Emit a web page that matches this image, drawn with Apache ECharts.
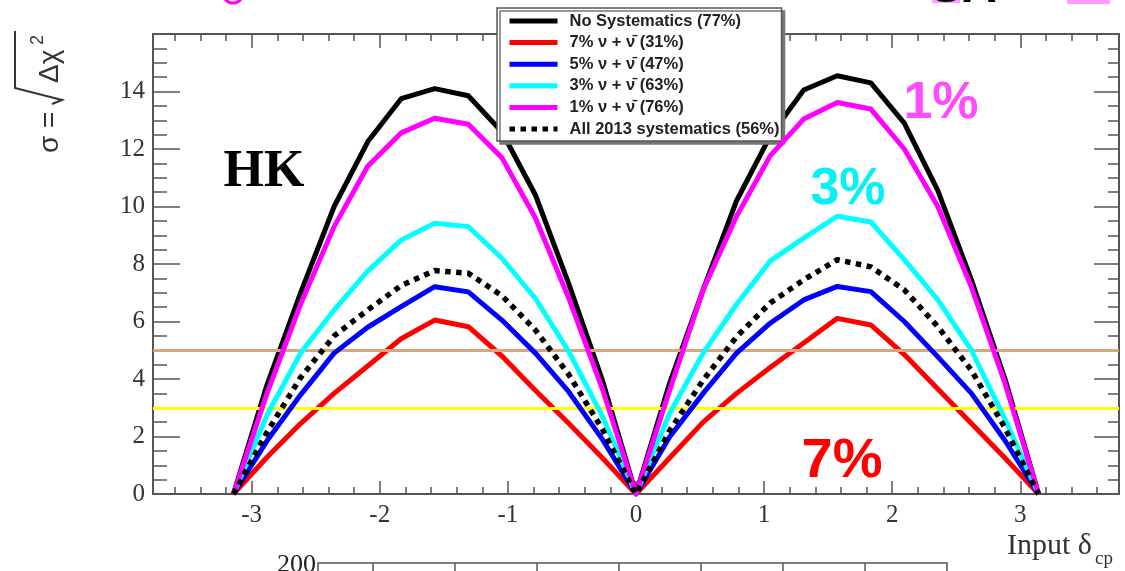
<!DOCTYPE html>
<html><head><meta charset="utf-8">
<script src="https://cdn.jsdelivr.net/npm/echarts@6/dist/echarts.min.js"></script>
<style>html,body{margin:0;padding:0;background:#fff}#c{width:1125px;height:571px}</style>
</head><body><div id="c"></div>
<script>
// Input delta_cp sample points (radians)
const deltaValues = [-3.142, -2.880, -2.618, -2.356, -2.094, -1.833, -1.571, -1.309, -1.047, -0.785, -0.524, -0.262, 0,
                     0.262, 0.524, 0.785, 1.047, 1.309, 1.571, 1.833, 2.094, 2.356, 2.618, 2.880, 3.142];
const seriesNames = ['No Systematics (77%)', '7% \u03bd + \u03bd\u0304 (31%)', '5% \u03bd + \u03bd\u0304 (47%)',
                     '3% \u03bd + \u03bd\u0304 (63%)', '1% \u03bd + \u03bd\u0304 (76%)', 'All 2013 systematics (56%)'];
const noSyst  = [0, 3.8, 7.0, 10.0, 12.25, 13.75, 14.1, 13.85, 12.6, 10.4, 7.3, 3.95, 0,
                 3.85, 7.1, 10.2, 12.45, 14.05, 14.55, 14.3, 12.9, 10.55, 7.45, 4.0, 0];
const syst7   = [0, 1.28, 2.45, 3.5, 4.45, 5.4, 6.05, 5.82, 4.8, 3.6, 2.45, 1.25, 0,
                 1.25, 2.5, 3.5, 4.4, 5.25, 6.11, 5.88, 4.85, 3.65, 2.45, 1.25, 0];
const syst5   = [0, 1.85, 3.45, 4.9, 5.8, 6.52, 7.21, 7.03, 6.05, 4.9, 3.55, 1.9, 0,
                 1.98, 3.5, 4.9, 5.94, 6.75, 7.22, 7.04, 6.0, 4.77, 3.5, 1.86, 0];
const syst3   = [0, 2.75, 4.9, 6.4, 7.75, 8.83, 9.42, 9.30, 8.2, 6.8, 4.95, 2.7, 0,
                 2.8, 4.9, 6.6, 8.1, 8.9, 9.66, 9.46, 8.15, 6.75, 5.0, 2.6, 0];
const syst1   = [0, 3.5, 6.6, 9.3, 11.4, 12.56, 13.07, 12.86, 11.7, 9.6, 6.8, 3.65, 0,
                 3.6, 7.1, 9.66, 11.76, 13.04, 13.62, 13.39, 12.0, 10.0, 7.2, 3.85, 0];
const syst2013 = [0, 2.15, 4.05, 5.5, 6.4, 7.25, 7.77, 7.68, 6.9, 5.7, 4.15, 2.25, 0,
                  2.2, 3.96, 5.47, 6.64, 7.45, 8.15, 7.9, 7.1, 5.82, 4.3, 2.3, 0];
const refLevels = [5, 3];
const xRange = [-3.7699, 3.7699];
const yRange = [0, 16];

const chart = echarts.init(document.getElementById('c'), null, {renderer: 'canvas'});
const axisColor = '#555';
function mk(name, vals, color, dotted, z) {
  return {
    name: name, type: 'line', data: deltaValues.map((d, i) => [d, vals[i]]),
    symbol: 'none', showSymbol: false, z: z, animation: false, clip: true,
    lineStyle: {color: color, width: dotted ? 5.5 : 5, type: dotted ? [5.5, 5.5] : 'solid', cap: 'butt', join: 'round'},
    itemStyle: {color: color}
  };
}
const intFmt = v => (Math.abs(v - Math.round(v)) < 1e-6 ? String(Math.round(v)) : '');
const labelFont = {fontFamily: '"Liberation Serif", serif', fontSize: 25, color: '#333'};
const baseX = {
  type: 'value', min: xRange[0], max: xRange[1], splitNumber: 8,
  axisLine: {show: true, onZero: false, lineStyle: {color: axisColor, width: 2}},
  splitLine: {show: false}
};
const baseY = {
  type: 'value', min: yRange[0], max: yRange[1], interval: 2,
  axisLine: {show: true, onZero: false, lineStyle: {color: axisColor, width: 2}},
  splitLine: {show: false}
};
const option = {
  backgroundColor: '#fff',
  animation: false,
  grid: {left: 153, right: 6, top: 34, bottom: 77, containLabel: false},
  xAxis: [
    Object.assign({}, baseX, {position: 'bottom',
      axisTick: {inside: true, length: 13, lineStyle: {color: axisColor, width: 1.5}},
      minorTick: {show: true, splitNumber: 5, length: 7, lineStyle: {color: axisColor, width: 1.5}},
      axisLabel: Object.assign({margin: 9, formatter: intFmt}, labelFont)}),
    Object.assign({}, baseX, {position: 'top',
      axisTick: {inside: true, length: 14, lineStyle: {color: axisColor, width: 1.5}},
      minorTick: {show: true, splitNumber: 5, length: 7, lineStyle: {color: axisColor, width: 1.5}},
      axisLabel: {show: false}})
  ],
  yAxis: [
    Object.assign({}, baseY, {position: 'left',
      axisTick: {inside: true, length: 27, lineStyle: {color: axisColor, width: 1.5}},
      minorTick: {show: true, splitNumber: 4, length: 14, lineStyle: {color: axisColor, width: 1.5}},
      axisLabel: Object.assign({margin: 8, formatter: v => (v >= yRange[1] ? '' : String(v))}, labelFont)}),
    Object.assign({}, baseY, {position: 'right',
      axisTick: {inside: true, length: 25, lineStyle: {color: axisColor, width: 1.5}},
      minorTick: {show: true, splitNumber: 4, length: 11, lineStyle: {color: axisColor, width: 1.5}},
      axisLabel: {show: false}})
  ],
  legend: {
    data: seriesNames, orient: 'vertical', left: 497, top: 8,
    itemWidth: 48, itemHeight: 14, itemGap: 3.6,
    padding: [4, 2, 3, 10],
    backgroundColor: '#fff', borderColor: '#555', borderWidth: 1.5,
    shadowColor: '#777', shadowOffsetX: 3, shadowOffsetY: 3, shadowBlur: 0,
    lineStyle: {width: 5},
    itemStyle: {opacity: 0, borderWidth: 0},
    selectedMode: false,
    textStyle: {fontFamily: '"Liberation Sans", Arial, sans-serif', fontWeight: 'bold', fontSize: 16.5, color: '#222', lineHeight: 18, padding: [0, 0, 0, 7]}
  },
  series: [
    {type: 'line', name: 'levels', data: [], xAxisIndex: 0, yAxisIndex: 0, z: 1, silent: true,
     markLine: {symbol: 'none', silent: true, animation: false, label: {show: false},
       data: [
         {yAxis: refLevels[0], lineStyle: {color: '#d7a77b', width: 3, type: 'solid'}},
         {yAxis: refLevels[1], lineStyle: {color: '#ffff00', width: 3, type: 'solid'}}
       ]}},
    mk(seriesNames[0], noSyst, '#000000', false, 3),
    mk(seriesNames[1], syst7, '#ff0000', false, 4),
    mk(seriesNames[2], syst5, '#0000ff', false, 5),
    mk(seriesNames[3], syst3, '#00ffff', false, 6),
    mk(seriesNames[4], syst1, '#ff00ff', false, 7),
    mk(seriesNames[5], syst2013, '#000000', true, 8)
  ],
  graphic: [
    {type: 'text', x: 264, y: 173, z: 20, style: {text: 'HK', fill: '#000', font: 'bold 52px "Liberation Serif", serif', align: 'center', verticalAlign: 'middle'}},
    {type: 'text', x: 941, y: 104, z: 20, style: {text: '1%', fill: '#ff4cff', font: 'bold 52px "Liberation Sans", Arial, sans-serif', align: 'center', verticalAlign: 'middle'}},
    {type: 'text', x: 848, y: 190, z: 20, style: {text: '3%', fill: '#00f4f4', font: 'bold 52px "Liberation Sans", Arial, sans-serif', align: 'center', verticalAlign: 'middle'}},
    {type: 'text', x: 842, y: 462, z: 20, style: {text: '7%', fill: '#ff0000', font: 'bold 56px "Liberation Sans", Arial, sans-serif', align: 'center', verticalAlign: 'middle'}},
    // y axis title, rotated
    {type: 'group', x: 60, y: 153, rotation: Math.PI / 2, z: 20, children: [
      {type: 'text', x: 0, y: -10, style: {text: '\u03c3 =', fill: '#333', font: '28px "Liberation Sans", Arial, sans-serif', align: 'left', verticalAlign: 'middle'}},
      {type: 'text', x: 70, y: -10, style: {text: '\u0394\u03c7', fill: '#333', font: '28px "Liberation Sans", Arial, sans-serif', align: 'left', verticalAlign: 'middle'}},
      {type: 'text', x: 108, y: -22, style: {text: '2', fill: '#333', font: '18px "Liberation Sans", Arial, sans-serif', align: 'left', verticalAlign: 'middle'}},
      {type: 'polyline', shape: {points: [[49, -8], [53, 2], [65, -45], [122, -45]]}, style: {stroke: '#333', lineWidth: 2, fill: null}}
    ]},
    // x axis title
    {type: 'text', x: 1007, y: 546, z: 20, style: {text: 'Input \u03b4', fill: '#333', font: '30px "Liberation Serif", serif', align: 'left', verticalAlign: 'middle'}},
    {type: 'text', x: 1095, y: 559, z: 20, style: {text: 'cp', fill: '#333', font: '19px "Liberation Serif", serif', align: 'left', verticalAlign: 'middle'}},
    // clipped pieces of neighbouring content
    {type: 'arc', z: 20, shape: {cx: 233, cy: -7, r: 10, startAngle: 0, endAngle: Math.PI}, style: {stroke: '#ff00ff', lineWidth: 3, fill: null}},
    {type: 'rect', z: 20, shape: {x: 932, y: 0, width: 28, height: 3}, style: {fill: '#ff9cff'}},
    {type: 'rect', z: 20, shape: {x: 1067, y: 0, width: 43, height: 4}, style: {fill: '#ff9cff'}},
    {type: 'text', x: 930, y: 13, z: 21, style: {text: 'SA', fill: '#000', font: 'bold 48px "Liberation Sans", Arial, sans-serif', align: 'left', verticalAlign: 'bottom'}},
    {type: 'text', x: 316, y: 578, z: 20, style: {text: '200', fill: '#222', font: '26px "Liberation Serif", serif', align: 'right', verticalAlign: 'bottom'}},
    {type: 'polyline', z: 20, shape: {points: [[318, 571], [318, 563], [947, 563], [947, 571]]}, style: {stroke: '#555', lineWidth: 1.5, fill: null}},
    {type: 'line', z: 20, shape: {x1: 373, y1: 563, x2: 373, y2: 571}, style: {stroke: '#555', lineWidth: 1.5}},
    {type: 'line', z: 20, shape: {x1: 455, y1: 563, x2: 455, y2: 571}, style: {stroke: '#555', lineWidth: 1.5}},
    {type: 'line', z: 20, shape: {x1: 537, y1: 563, x2: 537, y2: 571}, style: {stroke: '#555', lineWidth: 1.5}},
    {type: 'line', z: 20, shape: {x1: 619, y1: 563, x2: 619, y2: 571}, style: {stroke: '#555', lineWidth: 1.5}},
    {type: 'line', z: 20, shape: {x1: 701, y1: 563, x2: 701, y2: 571}, style: {stroke: '#555', lineWidth: 1.5}},
    {type: 'line', z: 20, shape: {x1: 783, y1: 563, x2: 783, y2: 571}, style: {stroke: '#555', lineWidth: 1.5}},
    {type: 'line', z: 20, shape: {x1: 865, y1: 563, x2: 865, y2: 571}, style: {stroke: '#555', lineWidth: 1.5}}
  ]
};
chart.setOption(option);
</script>
</body></html>
